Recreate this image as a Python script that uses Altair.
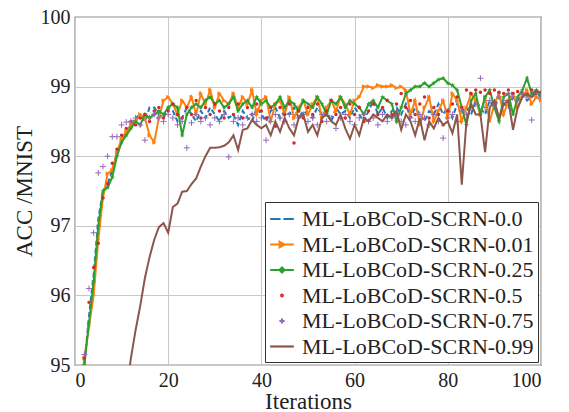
import altair as alt
import pandas as pd

iterations = list(range(1, 101))

series_names = [
    "ML-LoBCoD-SCRN-0.0",
    "ML-LoBCoD-SCRN-0.01",
    "ML-LoBCoD-SCRN-0.25",
    "ML-LoBCoD-SCRN-0.5",
    "ML-LoBCoD-SCRN-0.75",
    "ML-LoBCoD-SCRN-0.99",
]
colors = ["#1f77b4", "#ff7f0e", "#2ca02c", "#d62728", "#9467bd", "#8c564b"]

acc_00 = [94.2, 95.0, 95.7, 96.3, 97.1, 97.5, 97.6, 97.8, 98.05, 98.2,
          98.35, 98.45, 98.55, 98.6, 98.5, 98.7, 98.7, 98.6, 98.55, 98.7,
          98.65, 98.5, 98.55, 98.7, 98.6, 98.5, 98.65, 98.55, 98.7, 98.6,
          98.5, 98.65, 98.55, 98.6, 98.45, 98.65, 98.55, 98.5, 98.7, 98.6,
          98.5, 98.65, 98.7, 98.55, 98.65, 98.6, 98.7, 98.55, 98.65, 98.6,
          98.55, 98.7, 98.6, 98.65, 98.5, 98.7, 98.6, 98.65, 98.55, 98.7,
          98.6, 98.5, 98.65, 98.8, 98.6, 98.7, 98.55, 98.65, 98.7, 98.6,
          98.75, 98.55, 98.7, 98.6, 98.5, 98.65, 98.6, 98.75, 98.6, 98.7,
          98.55, 98.75, 98.65, 98.7, 98.6, 98.8, 98.7, 98.6, 98.8, 98.7,
          98.85, 98.75, 98.7, 98.85, 98.8, 98.9, 98.8, 98.85, 98.9, 98.85]

acc_001 = [94.5, 95.1, 95.55, 96.0, 96.8, 97.4, 97.75, 97.8, 98.05, 98.25,
           98.35, 98.45, 98.5, 98.6, 98.55, 98.3, 98.2, 98.55, 98.8, 98.85,
           98.75, 98.6, 98.8, 98.7, 98.85, 98.6, 98.9, 98.75, 98.95, 98.7,
           98.9, 98.8, 98.75, 98.9, 98.7, 98.85, 98.75, 98.95, 98.6, 98.8,
           98.85, 98.5, 98.75, 98.8, 98.6, 98.85, 98.55, 98.7, 98.8, 98.6,
           98.75, 98.85, 98.55, 98.7, 98.8, 98.65, 98.85, 98.75, 98.6, 98.8,
           98.85, 99.0, 99.0, 98.98, 99.02, 99.0, 99.0, 99.02, 98.98, 99.0,
           98.95, 98.6, 98.8, 98.45, 98.7, 98.85, 98.5, 98.65, 98.8, 98.55,
           98.9, 98.8, 98.5, 98.7, 98.9, 98.8, 98.6, 98.85, 98.5, 98.75,
           98.9, 98.6, 98.8, 98.9, 98.7, 98.85, 98.95, 98.75, 98.85, 98.8]

acc_025 = [94.3, 95.0, 95.6, 96.2, 97.0, 97.5, 97.55, 97.7, 98.0, 98.2,
           98.3, 98.4, 98.5, 98.45, 98.6, 98.55, 98.6, 98.65, 98.6, 98.7,
           98.75, 98.7, 98.3, 98.6, 98.7, 98.75, 98.7, 98.8, 98.85, 98.75,
           98.8, 98.7, 98.75, 98.85, 98.65, 98.75, 98.8, 98.7, 98.85, 98.75,
           98.8, 98.7, 98.75, 98.85, 98.7, 98.8, 98.75, 98.65, 98.8, 98.75,
           98.7, 98.85, 98.75, 98.6, 98.8, 98.75, 98.85, 98.7, 98.8, 98.75,
           98.7, 98.6, 98.75, 98.8, 98.7, 98.85, 98.8, 98.75, 98.5, 98.7,
           98.9, 98.95, 99.0, 99.0, 99.05, 99.0, 99.05, 99.1, 99.12, 99.05,
           99.02, 98.95, 98.7, 98.45, 98.8, 98.9, 98.6, 98.85, 98.95, 98.7,
           98.5, 98.85, 98.9, 98.6, 98.85, 98.95, 99.12, 98.9, 98.95, 98.85]

acc_05 = [94.5, 95.1, 95.9, 96.4, 96.75, 97.4, 97.6, 97.9, 98.1, 98.3,
          98.4, 98.5, 98.45, 98.55, 98.6, 98.5, 98.65, 98.7, 98.55, 98.65,
          98.75, 98.6, 98.55, 98.7, 98.6, 98.8, 98.55, 98.7, 98.6, 98.75,
          98.65, 98.55, 98.7, 98.6, 98.75, 98.55, 98.7, 98.6, 98.75, 98.65,
          98.55, 98.7, 98.43, 98.7, 98.6, 98.75, 98.19, 98.65, 98.55, 98.7,
          98.6, 98.75, 98.5, 98.65, 98.8, 98.6, 98.7, 98.55, 98.75, 98.6,
          98.7, 98.5, 98.65, 98.75, 98.6, 98.7, 98.8, 98.6, 98.75, 98.9,
          98.7, 98.8, 98.6, 98.75, 98.85, 98.55, 98.7, 98.6, 98.45, 98.65,
          98.75, 98.85, 98.7, 98.95, 98.9, 98.95, 98.92, 98.95, 98.9, 98.95,
          98.92, 98.9, 98.95, 98.9, 98.93, 98.9, 98.88, 98.95, 98.9, 98.92]

acc_075 = [94.5, 95.15, 96.1, 96.9, 97.76, 97.85, 98.0, 98.28, 98.28, 98.45,
           98.49, 98.5, 98.55, 98.45, 98.23, 98.55, 98.6, 98.55, 98.5, 98.6,
           98.55, 98.45, 98.5, 98.12, 98.48, 98.6, 98.5, 98.55, 98.45, 98.55,
           98.5, 98.6, 97.99, 98.5, 98.55, 98.45, 98.55, 98.6, 98.5, 98.55,
           98.23, 98.5, 98.6, 98.55, 98.5, 98.6, 98.45, 98.55, 98.6, 98.5,
           98.55, 98.45, 98.6, 98.5, 98.55, 98.4, 98.55, 98.6, 98.5, 98.45,
           98.55, 98.6, 98.5, 98.55, 98.45, 98.6, 98.5, 98.55, 98.6, 98.5,
           98.45, 98.55, 98.5, 98.6, 98.55, 98.45, 98.6, 98.5, 98.26, 98.55,
           98.6, 98.5, 98.65, 98.6, 98.7, 98.75, 99.12, 98.7, 98.8, 98.75,
           98.85, 98.8, 98.9, 98.85, 98.8, 98.9, 98.85, 98.52, 98.9, 98.85]

acc_099 = [89.0, 89.6, 90.2, 90.8, 91.4, 92.0, 92.6, 93.2, 93.7, 94.2,
           94.6, 95.1, 95.5, 95.85, 96.25, 96.55, 96.8, 96.98, 97.04, 96.9,
           97.27, 97.32, 97.49, 97.5, 97.6, 97.68, 97.85, 98.0, 98.12, 98.12,
           98.13, 98.15, 98.2, 98.3, 98.09, 98.38, 98.4, 98.52, 98.45, 98.4,
           98.45, 98.3, 98.5, 98.35, 98.55, 98.4, 98.3, 98.55, 98.6, 98.35,
           98.45, 98.3, 98.55, 98.6, 98.5, 98.45, 98.6, 98.4, 98.25, 98.45,
           98.3, 98.55, 98.5, 98.6, 98.55, 98.5, 98.6, 98.55, 98.65, 98.38,
           98.6, 98.5, 98.3, 98.55, 98.23, 98.5, 98.4, 98.55, 98.45, 98.5,
           98.33, 98.6, 97.59, 98.5, 98.75, 98.6, 98.6, 98.06, 98.7, 98.8,
           98.55, 98.75, 98.8, 98.38, 98.7, 98.85, 98.9, 98.85, 98.95, 98.9]

all_values = [acc_00, acc_001, acc_025, acc_05, acc_075, acc_099]

rows = []
for name, vals in zip(series_names, all_values):
    for it, v in zip(iterations, vals):
        rows.append({"iter": it, "acc": v, "series": name})
df = pd.DataFrame(rows)

FONT = "Liberation Serif"

x_enc = alt.X(
    "iter:Q",
    scale=alt.Scale(domain=[0, 100], nice=False, zero=False),
    axis=alt.Axis(values=[0, 20, 40, 60, 80, 100], title="Iterations"),
)
y_enc = alt.Y(
    "acc:Q",
    scale=alt.Scale(domain=[95, 100], nice=False, zero=False),
    axis=alt.Axis(values=[95, 96, 97, 98, 99, 100], title="ACC /MNIST"),
)

base = alt.Chart(df).encode(x=x_enc, y=y_enc)


def sel(name):
    return base.transform_filter(alt.datum.series == name)


STAR = ("M0,-1L0.24,-0.33L0.95,-0.31L0.38,0.12L0.59,0.81L0,0.4"
        "L-0.59,0.81L-0.38,0.12L-0.95,-0.31L-0.24,-0.33Z")
PLUS = "M-1,0H1M0,-1V1"

l0 = sel(series_names[0]).mark_line(color=colors[0], strokeWidth=2, strokeDash=[5, 3], clip=True)
l1 = sel(series_names[1]).mark_line(color=colors[1], strokeWidth=2, clip=True)
p1 = sel(series_names[1]).mark_point(color=colors[1], shape="triangle-right", filled=True,
                                     size=22, opacity=1, clip=True)
l2 = sel(series_names[2]).mark_line(color=colors[2], strokeWidth=2, clip=True)
p2 = sel(series_names[2]).mark_point(color=colors[2], shape=STAR, filled=True,
                                     size=28, opacity=1, clip=True)
p3 = sel(series_names[3]).mark_point(color=colors[3], shape="circle", filled=True,
                                     size=12, opacity=1, clip=True)
p4 = sel(series_names[4]).mark_point(color=colors[4], shape=PLUS, filled=False,
                                     strokeWidth=1, size=36, opacity=1, clip=True)
l5 = sel(series_names[5]).mark_line(color=colors[5], strokeWidth=2, clip=True)

legend_shapes = [
    "M-1,0H-0.12M0.12,0H1",
    "M-1,0H1M-0.2,-0.22L0.22,0L-0.2,0.22Z",
    "M-1,0H1M0,-0.2L0.2,0L0,0.2L-0.2,0Z",
    "M-0.07,0A0.07,0.07 0 1,0 0.07,0A0.07,0.07 0 1,0 -0.07,0",
    "M-0.22,0H0.22M0,-0.22V0.22",
    "M-1,0H1",
]
legend_df = pd.DataFrame({"series": series_names, "iter": [50] * 6, "acc": [90.0] * 6})
leg_cfg = alt.Legend(
    title=None,
    orient="bottom-right",
    offset=3,
    padding=4,
    strokeColor="#333333",
    fillColor="white",
    cornerRadius=0,
    labelFont=FONT,
    labelFontSize=22,
    labelColor="#222222",
    labelLimit=0,
    symbolSize=560,
    symbolStrokeWidth=2.2,
    rowPadding=1.5,
    labelOffset=7,
)
leg = alt.Chart(legend_df).mark_point(filled=False, strokeWidth=2.2, clip=True, opacity=1).encode(
    x=x_enc,
    y=y_enc,
    color=alt.Color("series:N", scale=alt.Scale(domain=series_names, range=colors), legend=leg_cfg),
    shape=alt.Shape("series:N", scale=alt.Scale(domain=series_names, range=legend_shapes), legend=leg_cfg),
)

chart = alt.layer(l0, l1, p1, l2, p2, p3, p4, l5, leg).properties(
    width=466,
    height=348,
    autosize=alt.AutoSizeParams(type="none"),
    padding={"left": 75, "top": 17, "right": 28, "bottom": 47},
).configure_view(
    stroke="#222222", strokeWidth=1.2
).configure_axis(
    domain=False,
    grid=True,
    gridColor="#c8c8c8",
    gridWidth=1,
    ticks=False,
    labelFont=FONT,
    labelFontSize=20,
    labelColor="#222222",
    titleFont=FONT,
    titleFontSize=23,
    titleFontWeight="normal",
    titleColor="#222222",
).configure_axisX(
    labelPadding=5, titlePadding=0
).configure_axisY(
    labelPadding=5, titlePadding=4
)

chart.save("out.html", embed_options={"renderer": "svg", "actions": False})
